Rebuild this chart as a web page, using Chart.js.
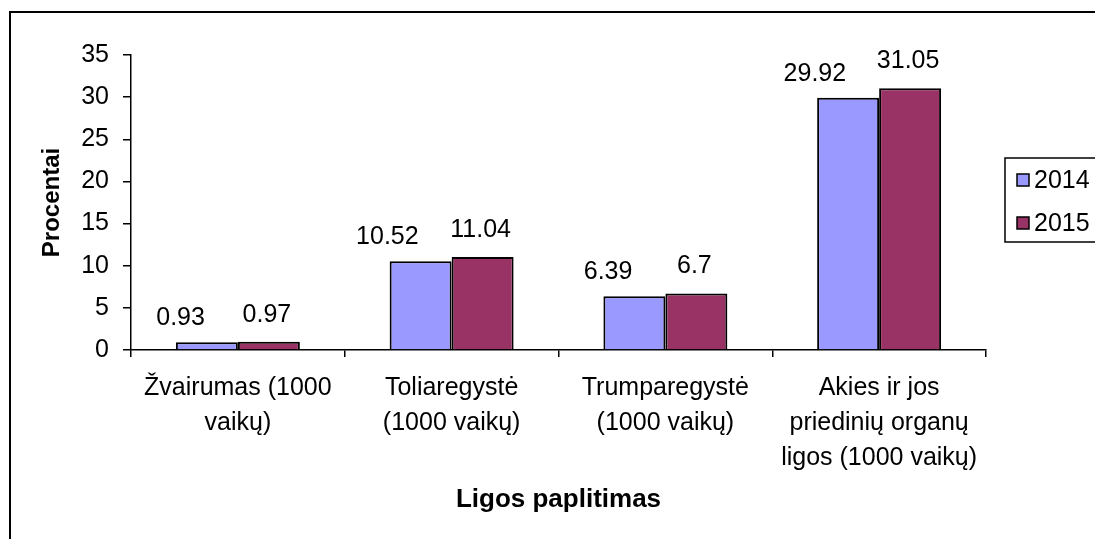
<!DOCTYPE html>
<html>
<head>
<meta charset="utf-8">
<script src="https://cdn.jsdelivr.net/npm/chart.js@4/dist/chart.umd.min.js"></script>
<style>
  html, body { margin: 0; padding: 0; background: #ffffff; }
  canvas { display: block; }
</style>
</head>
<body>
<canvas id="c" width="1095" height="539"></canvas>
<script>
// Categories (multi-line labels) and yearly values
const categories = [
  ['Žvairumas (1000', 'vaikų)'],
  ['Toliaregystė', '(1000 vaikų)'],
  ['Trumparegystė', '(1000 vaikų)'],
  ['Akies ir jos', 'priedinių organų', 'ligos (1000 vaikų)']
];
const values2014 = [0.93, 10.52, 6.39, 29.92];
const values2015 = [0.97, 11.04, 6.7, 31.05];
const seriesNames = ['2014', '2015'];
const yTicks = [0, 5, 10, 15, 20, 25, 30, 35];

const FONT = "'Liberation Sans', Arial, sans-serif";
Chart.defaults.font.family = FONT;
Chart.defaults.font.size = 25;
Chart.defaults.color = '#000000';

// Outer frame of the chart
const framePlugin = {
  id: 'frame',
  afterDraw(chart) {
    const ctx = chart.ctx;
    ctx.save();
    ctx.strokeStyle = '#000000';
    ctx.lineWidth = 2;
    ctx.strokeRect(10, 12, 1100, 540);
    ctx.restore();
  }
};

// Value labels above each bar: the first series' label sits to the left
// of its bar centre so it does not run into the neighbouring label
const valueLabels = {
  id: 'valueLabels',
  afterDatasetsDraw(chart) {
    const ctx = chart.ctx;
    ctx.save();
    ctx.font = '25px ' + FONT;
    ctx.fillStyle = '#000000';
    ctx.textBaseline = 'middle';
    chart.data.datasets.forEach((ds, di) => {
      chart.getDatasetMeta(di).data.forEach((bar, i) => {
        if (di === 0) {
          ctx.textAlign = 'right';
          ctx.fillText(String(ds.data[i]), bar.x - 2, bar.y - 24);
        } else {
          ctx.textAlign = 'center';
          ctx.fillText(String(ds.data[i]), bar.x - 2, bar.y - 27);
        }
      });
    });
    ctx.restore();
  }
};

// Boxed legend at the right
const boxLegend = {
  id: 'boxLegend',
  afterDraw(chart) {
    const ctx = chart.ctx;
    ctx.save();
    ctx.strokeStyle = '#000000';
    ctx.lineWidth = 1.5;
    ctx.strokeRect(1005, 158, 120, 84);
    ctx.font = '25px ' + FONT;
    ctx.textBaseline = 'middle';
    ctx.textAlign = 'left';
    const rows = [180, 223];
    chart.data.datasets.forEach((ds, i) => {
      const y = rows[i];
      ctx.fillStyle = ds.backgroundColor;
      ctx.fillRect(1017, y - 6, 12, 12);
      ctx.lineWidth = 1.5;
      ctx.strokeRect(1017, y - 6, 12, 12);
      ctx.fillStyle = '#000000';
      ctx.fillText(ds.label, 1034, y + 1);
    });
    ctx.restore();
  }
};

new Chart(document.getElementById('c'), {
  type: 'bar',
  data: {
    labels: categories,
    datasets: [
      {
        label: seriesNames[0],
        data: values2014,
        backgroundColor: '#9999FF',
        borderColor: '#000000',
        borderWidth: 2,
        barPercentage: 1,
        categoryPercentage: 0.58
      },
      {
        label: seriesNames[1],
        data: values2015,
        backgroundColor: '#993366',
        borderColor: '#000000',
        borderWidth: 2,
        barPercentage: 1,
        categoryPercentage: 0.58
      }
    ]
  },
  options: {
    responsive: false,
    animation: false,
    layout: { padding: { left: 0, right: 109, top: 55, bottom: 0 } },
    plugins: {
      legend: { display: false },
      tooltip: { enabled: false }
    },
    scales: {
      x: {
        grid: {
          display: true,
          drawOnChartArea: false,
          drawTicks: true,
          tickLength: 7,
          color: '#000000',
          lineWidth: 1.5,
          offset: true
        },
        border: { display: true, color: '#000000', width: 1.5 },
        ticks: {
          color: '#000000',
          font: { size: 25, lineHeight: 1.4 },
          padding: 14,
          maxRotation: 0,
          autoSkip: false
        },
        title: {
          display: true,
          text: 'Ligos paplitimas',
          color: '#000000',
          font: { size: 26, weight: 'bold' },
          padding: { top: 0, bottom: 24 }
        },
        afterFit(scale) { scale.height = 189; }
      },
      y: {
        min: 0,
        max: 35,
        afterBuildTicks(scale) { scale.ticks = yTicks.map(v => ({ value: v })); },
        grid: {
          display: true,
          drawOnChartArea: false,
          drawTicks: true,
          tickLength: 8,
          color: '#000000',
          lineWidth: 1.5
        },
        border: { display: true, color: '#000000', width: 1.5 },
        ticks: {
          color: '#000000',
          font: { size: 25 },
          padding: 14
        },
        title: {
          display: true,
          text: 'Procentai',
          color: '#000000',
          font: { size: 24, weight: 'bold' },
          padding: { top: 38, bottom: 0 }
        },
        afterFit(scale) { scale.width = 131; }
      }
    }
  },
  plugins: [framePlugin, valueLabels, boxLegend]
});
</script>
</body>
</html>
